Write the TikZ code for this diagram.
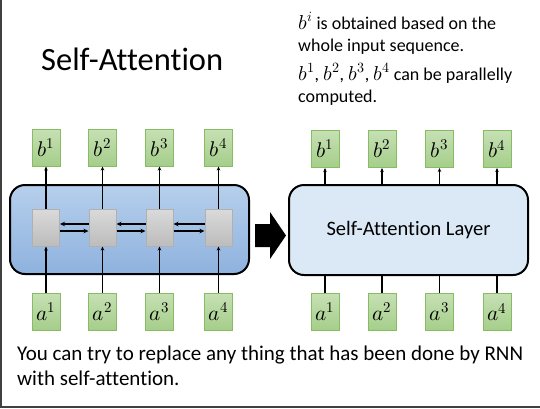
\documentclass[tikz,border=0pt]{standalone}
\usepackage{unicode-math}
\setmainfont{Carlito}[Ligatures=NoCommon]
\setmathfont{Latin Modern Math}[Scale=1.12]
\usetikzlibrary{arrows.meta}
\definecolor{gborder}{HTML}{86BC62}
\definecolor{gtop}{HTML}{C6E0B4}
\definecolor{gbot}{HTML}{A5CE8A}
\definecolor{btop}{HTML}{B6CFEC}
\definecolor{bbot}{HTML}{8EB2DE}
\definecolor{graytop}{HTML}{DADADA}
\definecolor{graybot}{HTML}{BCBCBC}
\definecolor{grayline}{HTML}{B0B0B0}
\definecolor{layerfill}{HTML}{DBE9F6}
\definecolor{frame}{HTML}{404040}
\tikzset{
  vecbox/.style={draw=gborder, line width=1pt, top color=gtop, bottom color=gbot,
    minimum width=28pt, minimum height=37pt, inner sep=0pt,
    font=\fontsize{19}{22}\selectfont},
  cellbox/.style={draw=grayline, line width=1pt, top color=graytop, bottom color=graybot,
    minimum width=27pt, minimum height=37pt, inner sep=0pt},
  conn/.style={line width=1.1pt, -{Stealth[length=4pt,width=3.5pt]}},
  plainconn/.style={line width=1.1pt},
  harrow/.style={line width=1.8pt, draw=black, -{Stealth[length=5pt,width=4.5pt]}},
  txt/.style={anchor=base west, inner sep=0pt},
}
\begin{document}
\begin{tikzpicture}[x=1pt,y=-1pt]
\useasboundingbox (0,0) rectangle (540,408);
\fill[white] (0,0) rectangle (540,408);
% frame lines
\fill[frame] (0,0) rectangle (1.5,408);
\fill[frame] (0,406) rectangle (540,408);

% title and notes
\node[txt, font=\fontsize{32.5}{38}\selectfont] (title) at (41,70) {Self-Attention};
\node[txt, font=\fontsize{18}{22}\selectfont] (n1) at (298,29) {$b^i$ is obtained based on the};
\node[txt, font=\fontsize{18}{22}\selectfont] (n2) at (298,51) {whole input sequence.};
\node[txt, font=\fontsize{18}{22}\selectfont] (n3) at (298,80) {$b^1$, $b^2$, $b^3$, $b^4$ can be parallelly};
\node[txt, font=\fontsize{18}{22}\selectfont] (n4) at (298,102) {computed.};

% left RNN block
\draw[line width=2pt, rounded corners=15pt, top color=btop, bottom color=bbot] (10,185) rectangle (249,274);
\foreach \i/\x in {1/46,2/102.5,3/159.5,4/218.5}{
  \node[vecbox] (lb\i) at (\x,147.5) {$b^{\i}$};
  \node[cellbox] (lg\i) at (\x,227.5) {};
  \node[vecbox] (la\i) at (\x,311.5) {$a^{\i}$};
  \draw[conn] (la\i) -- (lg\i);
  \draw[conn] (lg\i) -- (lb\i);
}
\foreach \i/\j in {1/2,2/3,3/4}{
  \draw[harrow] ([yshift=3.5pt]lg\j.west) -- ([yshift=3.5pt]lg\i.east);
  \draw[harrow] ([yshift=-3.5pt]lg\i.east) -- ([yshift=-3.5pt]lg\j.west);
}

% big arrow
\fill[black] (255,224) -- (270,224) -- (270,212) -- (286,235.5) -- (270,259) -- (270,247) -- (255,247) -- cycle;

% right self-attention block
\node[draw, line width=2pt, rounded corners=15pt, fill=layerfill, minimum width=239pt, minimum height=90pt,
  font=\fontsize{20.5}{24}\selectfont] (layer) at (408.5,230) {Self-Attention Layer};
\foreach \i/\x in {1/325,2/382,3/439.5,4/497}{
  \node[vecbox] (rb\i) at (\x,149) {$b^{\i}$};
  \node[vecbox] (ra\i) at (\x,312) {$a^{\i}$};
  \draw[plainconn] (ra\i) -- (ra\i |- layer.south);
  \draw[conn] (rb\i |- layer.north) -- (rb\i);
}

% bottom text
\node[txt, font=\fontsize{21}{26}\selectfont] (f1) at (17,360) {You can try to replace any thing that has been done by RNN};
\node[txt, font=\fontsize{21}{26}\selectfont] (f2) at (17,385) {with self-attention.};
\end{tikzpicture}
\end{document}
